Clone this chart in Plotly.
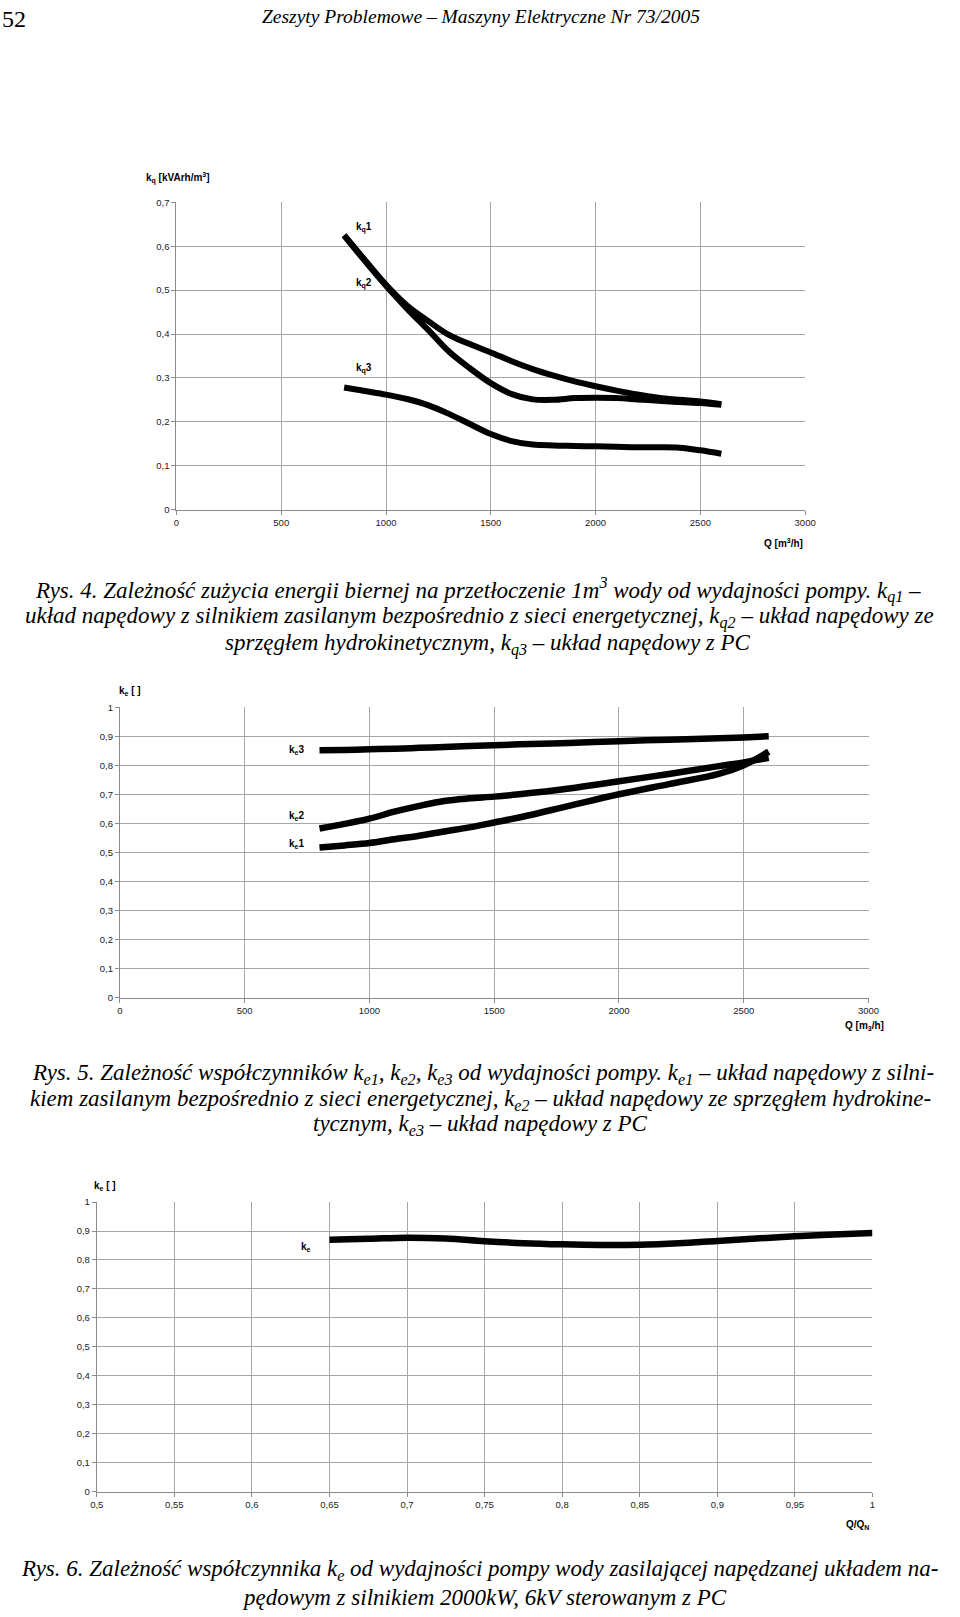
import plotly.graph_objects as go

# ---------------- data ----------------
# Fig. 4
q_flow = [800, 900, 1000, 1100, 1200, 1300, 1400, 1500, 1600, 1700, 1800,
          1900, 2000, 2100, 2200, 2300, 2400, 2500, 2600]
kq1 = [0.625, 0.568, 0.512, 0.465, 0.430, 0.398, 0.377, 0.358, 0.338, 0.320,
       0.305, 0.292, 0.281, 0.271, 0.262, 0.255, 0.250, 0.246, 0.240]
kq2 = [0.625, 0.566, 0.510, 0.458, 0.410, 0.360, 0.322, 0.288, 0.263, 0.251,
       0.250, 0.254, 0.255, 0.254, 0.251, 0.248, 0.245, 0.243, 0.239]
kq3 = [0.278, 0.270, 0.262, 0.252, 0.238, 0.218, 0.195, 0.172, 0.156, 0.148,
       0.146, 0.145, 0.144, 0.143, 0.142, 0.142, 0.141, 0.135, 0.127]

# Fig. 5
e_flow = [800, 900, 1000, 1100, 1200, 1300, 1400, 1500, 1600, 1800, 2000,
          2200, 2400, 2500, 2600]
ke1 = [0.517, 0.524, 0.532, 0.545, 0.557, 0.572, 0.586, 0.603, 0.620, 0.660,
       0.700, 0.735, 0.770, 0.800, 0.847]
ke2 = [0.582, 0.598, 0.616, 0.640, 0.660, 0.677, 0.686, 0.692, 0.700, 0.720,
       0.745, 0.770, 0.797, 0.810, 0.826]
ke3 = [0.852, 0.853, 0.855, 0.857, 0.860, 0.863, 0.866, 0.869, 0.872, 0.877,
       0.883, 0.888, 0.893, 0.896, 0.900]

# Fig. 6
qn_ratio = [0.65, 0.675, 0.70, 0.725, 0.75, 0.775, 0.80, 0.825, 0.85, 0.875,
            0.90, 0.925, 0.95, 0.975, 1.0]
ke = [0.870, 0.873, 0.877, 0.874, 0.865, 0.858, 0.854, 0.852, 0.853, 0.858,
      0.866, 0.874, 0.882, 0.888, 0.893]

# tick labels
q_ticks = [0, 500, 1000, 1500, 2000, 2500, 3000]
q_ticktext = ["0", "500", "1000", "1500", "2000", "2500", "3000"]
kq_ticks = [0, 0.1, 0.2, 0.3, 0.4, 0.5, 0.6, 0.7]
kq_ticktext = ["0", "0,1", "0,2", "0,3", "0,4", "0,5", "0,6", "0,7"]
ke_ticks = [0, 0.1, 0.2, 0.3, 0.4, 0.5, 0.6, 0.7, 0.8, 0.9, 1.0]
ke_ticktext = ["0", "0,1", "0,2", "0,3", "0,4", "0,5", "0,6", "0,7", "0,8", "0,9", "1"]
r_ticks = [0.5, 0.55, 0.6, 0.65, 0.7, 0.75, 0.8, 0.85, 0.9, 0.95, 1.0]
r_ticktext = ["0,5", "0,55", "0,6", "0,65", "0,7", "0,75", "0,8", "0,85", "0,9", "0,95", "1"]

# ---------------- layout helpers ----------------
W, H = 960, 1617


def px(x):
    return x / W


def py(y):
    return 1 - y / H


SANS = "Liberation Sans, Arial, sans-serif"
SERIF = "Liberation Serif, Times New Roman, serif"
GRID = "#a6a6a6"
AXIS = "#8a8a8a"

fig = go.Figure()

line_black = dict(color="black", shape="spline", smoothing=1.0)

for xs, ys, nm in [(q_flow, kq1, "kq1"), (q_flow, kq2, "kq2"), (q_flow, kq3, "kq3")]:
    fig.add_trace(go.Scatter(x=xs, y=ys, mode="lines", line=dict(width=6, **line_black),
                             xaxis="x", yaxis="y", name=nm))
for xs, ys, nm in [(e_flow, ke1, "ke1"), (e_flow, ke2, "ke2"), (e_flow, ke3, "ke3")]:
    fig.add_trace(go.Scatter(x=xs, y=ys, mode="lines", line=dict(width=6.5, **line_black),
                             xaxis="x2", yaxis="y2", name=nm))
fig.add_trace(go.Scatter(x=qn_ratio, y=ke, mode="lines", line=dict(width=6.5, **line_black),
                         xaxis="x3", yaxis="y3", name="ke"))


def axis_common():
    return dict(showgrid=True, gridcolor=GRID, gridwidth=1, showline=True,
                linecolor=AXIS, linewidth=1, ticks="outside", ticklen=4,
                tickcolor=AXIS, zeroline=False, tickmode="array",
                tickfont=dict(family=SANS, size=9.5, color="#222"), fixedrange=True)


fig.update_layout(
    width=W, height=H, margin=dict(l=0, r=0, t=0, b=0),
    paper_bgcolor="white", plot_bgcolor="white", showlegend=False,
    xaxis=dict(domain=[px(172.7), px(813.4)], range=[0, 3000], anchor="y",
               tickvals=q_ticks, ticktext=q_ticktext, **axis_common()),
    yaxis=dict(domain=[py(507), py(197.7)], range=[0, 0.7], anchor="x",
               tickvals=kq_ticks, ticktext=kq_ticktext, **axis_common()),
    xaxis2=dict(domain=[px(115), px(878)], range=[0, 3000], anchor="y2",
                tickvals=q_ticks, ticktext=q_ticktext, **axis_common()),
    yaxis2=dict(domain=[py(998.3), py(706)], range=[0, 1], anchor="x2",
                tickvals=ke_ticks, ticktext=ke_ticktext, **axis_common()),
    xaxis3=dict(domain=[px(91.5), px(882)], range=[0.5, 1.0], anchor="y3",
                tickvals=r_ticks, ticktext=r_ticktext, **axis_common()),
    yaxis3=dict(domain=[py(1495.7), py(1204.3)], range=[0, 1], anchor="x3",
                tickvals=ke_ticks, ticktext=ke_ticktext, **axis_common()),
)

ann = []


def page_text(text, x, y, size, family, xanchor="center", color="black", bold=False):
    if bold:
        text = "<b>" + text + "</b>"
    ann.append(dict(text=text, x=px(x), y=py(y), xref="paper", yref="paper",
                    xanchor=xanchor, yanchor="middle", showarrow=False,
                    font=dict(family=family, size=size, color=color)))


def data_label(text, x, y, xref, yref):
    ann.append(dict(text="<b>" + text + "</b>", x=x, y=y, xref=xref, yref=yref,
                    xanchor="center", yanchor="middle", showarrow=False,
                    font=dict(family=SANS, size=10, color="black")))


# header
page_text("52", -7, 13, 24, SERIF, xanchor="left")
page_text("<i>Zeszyty Problemowe – Maszyny Elektryczne Nr 73/2005</i>", 483, 11, 19.5, SERIF)

# Fig 4 axis titles / labels
page_text("k<sub>q</sub> [kVArh/m<sup>3</sup>]", 140, 173, 10, SANS, xanchor="left", bold=True)
page_text("Q [m<sup>3</sup>/h]", 813, 541, 10, SANS, xanchor="right", bold=True)
data_label("k<sub>q</sub>1", 893, 0.642, "x", "y")
data_label("k<sub>q</sub>2", 893, 0.515, "x", "y")
data_label("k<sub>q</sub>3", 893, 0.321, "x", "y")

# Fig 4 caption
cap_size = 23
page_text("<i>Rys. 4. Zależność zużycia energii biernej na przetłoczenie 1m<sup>3</sup> wody od wydajności pompy. k<sub>q1</sub> –</i>",
          480, 588, cap_size, SERIF)
page_text("<i>układ napędowy z silnikiem zasilanym bezpośrednio z sieci energetycznej, k<sub>q2</sub> – układ napędowy ze</i>",
          482, 616, cap_size, SERIF)
page_text("<i>sprzęgłem hydrokinetycznym, k<sub>q3</sub> – układ napędowy z PC</i>",
          490, 643, cap_size, SERIF)

# Fig 5 axis titles / labels
page_text("k<sub>e</sub> [ ]", 112, 690, 10, SANS, xanchor="left", bold=True)
page_text("Q [m<sub>3</sub>/h]", 896, 1027, 10, SANS, xanchor="right", bold=True)
data_label("k<sub>e</sub>3", 708, 0.852, "x2", "y2")
data_label("k<sub>e</sub>2", 708, 0.625, "x2", "y2")
data_label("k<sub>e</sub>1", 708, 0.530, "x2", "y2")

# Fig 5 caption
page_text("<i>Rys. 5. Zależność współczynników k<sub>e1</sub>, k<sub>e2</sub>, k<sub>e3</sub> od wydajności pompy. k<sub>e1</sub> – układ napędowy z silni-</i>",
          485, 1075, cap_size, SERIF)
page_text("<i>kiem zasilanym bezpośrednio z sieci energetycznej, k<sub>e2</sub> – układ napędowy ze sprzęgłem hydrokine-</i>",
          483, 1101, cap_size, SERIF)
page_text("<i>tycznym, k<sub>e3</sub> – układ napędowy z PC</i>",
          483, 1127, cap_size, SERIF)

# Fig 6 axis titles / labels
page_text("k<sub>e</sub> [ ]", 87, 1188, 10, SANS, xanchor="left", bold=True)
page_text("Q/Q<sub>N</sub>", 880, 1529, 10, SANS, xanchor="right", bold=True)
data_label("k<sub>e</sub>", 0.635, 0.846, "x3", "y3")

# Fig 6 caption
page_text("<i>Rys. 6. Zależność współczynnika k<sub>e</sub> od wydajności pompy wody zasilającej napędzanej układem na-</i>",
          482, 1575, cap_size, SERIF)
page_text("<i>pędowym z silnikiem 2000kW, 6kV sterowanym z PC</i>",
          487, 1602, cap_size, SERIF)

fig.update_layout(annotations=ann)

fig.write_html("out.html")
